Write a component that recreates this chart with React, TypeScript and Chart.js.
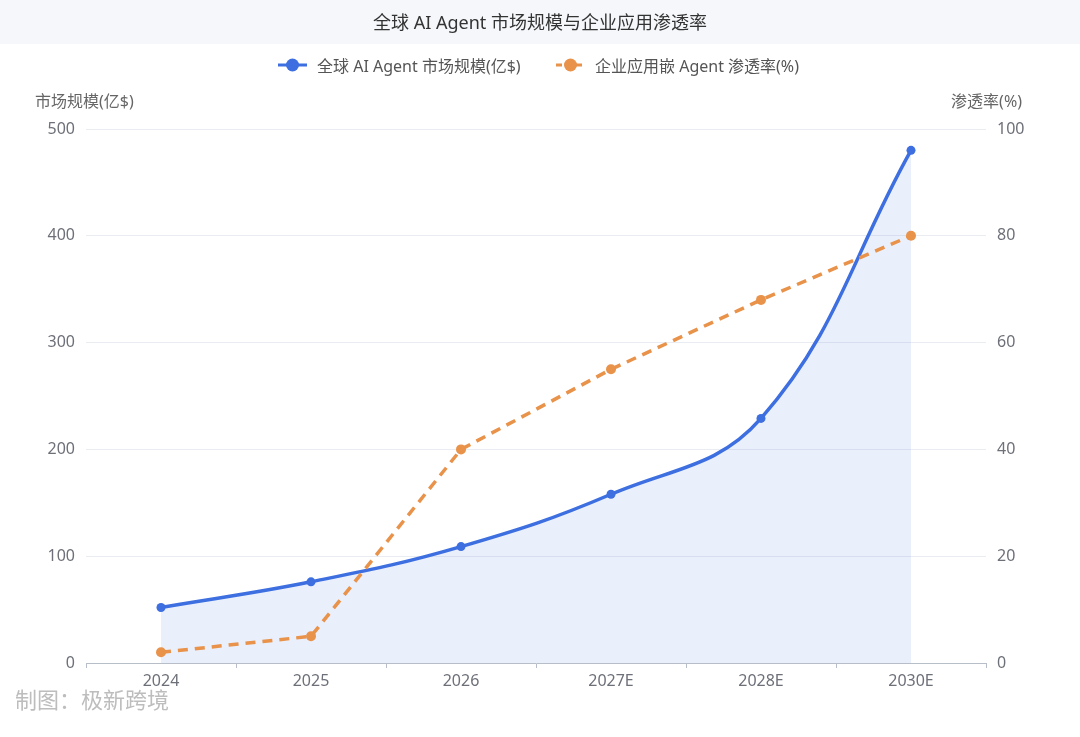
import React, { useEffect, useRef } from "react";
import { Chart, registerables } from "chart.js";

Chart.register(...registerables);

const categories = ["2024", "2025", "2026", "2027E", "2028E", "2030E"];
const marketSize = [52, 76, 109, 158, 229, 480];
const penetration = [2, 5, 40, 55, 68, 80];
const titleText = "全球 AI Agent 市场规模与企业应用渗透率";
const seriesNames = ["全球 AI Agent 市场规模(亿$)", "企业应用嵌 Agent 渗透率(%)"];
const leftAxisName = "市场规模(亿$)";
const rightAxisName = "渗透率(%)";
const creditText = "制图：极新跨境";

const BLUE = "#3D6FE0";
const ORANGE = "#E8924A";
const FONT = "'Noto Sans', 'Noto Sans CJK SC', sans-serif";

const decorPlugin = {
  id: "decor",
  beforeDraw(chart: any) {
    const ctx = chart.ctx;
    ctx.save();
    ctx.fillStyle = "#ffffff";
    ctx.fillRect(0, 0, chart.width, chart.height);
    ctx.fillStyle = "#F5F7FA";
    ctx.fillRect(0, 0, chart.width, 44);
    ctx.restore();
  },
  afterDraw(chart: any) {
    const ctx = chart.ctx;
    ctx.save();
    // title
    ctx.fillStyle = "#333333";
    ctx.font = `18px ${FONT}`;
    ctx.textAlign = "center";
    ctx.textBaseline = "middle";
    ctx.fillText(titleText, 540, 24);

    // legend
    ctx.font = `16px ${FONT}`;
    ctx.textAlign = "left";
    const items = [
      { color: BLUE, x: 278, text: seriesNames[0], dash: [] as number[] },
      { color: ORANGE, x: 556, text: seriesNames[1], dash: [6, 4] },
    ];
    items.forEach((it) => {
      ctx.strokeStyle = it.color;
      ctx.lineWidth = 3;
      ctx.setLineDash(it.dash);
      ctx.beginPath();
      ctx.moveTo(it.x, 65);
      ctx.lineTo(it.x + 29, 65);
      ctx.stroke();
      ctx.setLineDash([]);
      ctx.fillStyle = it.color;
      ctx.beginPath();
      ctx.arc(it.x + 14.5, 65, 6.5, 0, Math.PI * 2);
      ctx.fill();
      ctx.fillStyle = "#555555";
      ctx.fillText(it.text, it.x + 39, 67);
    });

    // axis names
    ctx.fillStyle = "#666666";
    ctx.font = `16px ${FONT}`;
    ctx.textAlign = "left";
    ctx.fillText(leftAxisName, 35, 102);
    ctx.textAlign = "right";
    ctx.fillText(rightAxisName, 1022, 102);

    // credit
    ctx.fillStyle = "#BDBDBD";
    ctx.font = `22px ${FONT}`;
    ctx.textAlign = "left";
    ctx.fillText(creditText, 15, 702);
    ctx.restore();
  },
};

export default function App() {
  const canvasRef = useRef<HTMLCanvasElement | null>(null);

  useEffect(() => {
    if (!canvasRef.current) return;
    const chart = new Chart(canvasRef.current, {
      type: "line",
      data: {
        labels: categories,
        datasets: [
          {
            label: seriesNames[0],
            data: marketSize,
            yAxisID: "y",
            borderColor: BLUE,
            backgroundColor: "rgba(61,111,224,0.11)",
            borderWidth: 3.5,
            pointRadius: 4.5,
            pointBackgroundColor: BLUE,
            pointBorderColor: BLUE,
            pointBorderWidth: 0,
            tension: 0.4,
            fill: "origin",
            order: 2,
          },
          {
            label: seriesNames[1],
            data: penetration,
            yAxisID: "y1",
            borderColor: ORANGE,
            backgroundColor: ORANGE,
            borderWidth: 3.5,
            borderDash: [10, 7],
            pointRadius: 5,
            pointBackgroundColor: ORANGE,
            pointBorderColor: ORANGE,
            pointBorderWidth: 0,
            tension: 0,
            fill: false,
            order: 1,
          },
        ],
      },
      options: {
        responsive: false,
        animation: false,
        devicePixelRatio: window.devicePixelRatio || 1,
        layout: { padding: { top: 129, left: 0, right: 0, bottom: 0 } },
        plugins: {
          legend: { display: false },
          title: { display: false },
          tooltip: { enabled: false },
        },
        scales: {
          x: {
            offset: true,
            grid: {
              offset: true,
              drawOnChartArea: false,
              drawTicks: true,
              tickLength: 5,
              color: "#B8BEC8",
            },
            border: { color: "#B8BEC8", width: 1 },
            ticks: {
              color: "#6E7079",
              font: { size: 16, family: FONT },
              padding: 4,
              maxRotation: 0,
            },
            afterFit(scale: any) {
              scale.height = 74;
            },
          },
          y: {
            position: "left",
            min: 0,
            max: 500,
            ticks: {
              stepSize: 100,
              color: "#6E7079",
              font: { size: 16, family: FONT },
              padding: 11,
            },
            grid: { color: "#E9ECF1", drawTicks: false },
            border: { display: false },
            afterFit(scale: any) {
              scale.width = 86;
            },
          },
          y1: {
            position: "right",
            min: 0,
            max: 100,
            ticks: {
              stepSize: 20,
              color: "#6E7079",
              font: { size: 16, family: FONT },
              padding: 11,
            },
            grid: { drawOnChartArea: false, drawTicks: false },
            border: { display: false },
            afterFit(scale: any) {
              scale.width = 94;
            },
          },
        },
      },
      plugins: [decorPlugin],
    } as any);
    return () => chart.destroy();
  }, []);

  return (
    <div style={{ position: "absolute", left: 0, top: 0, width: 1080, height: 737, background: "#fff" }}>
      <canvas ref={canvasRef} width={1080} height={737} style={{ width: 1080, height: 737, display: "block" }} />
    </div>
  );
}
